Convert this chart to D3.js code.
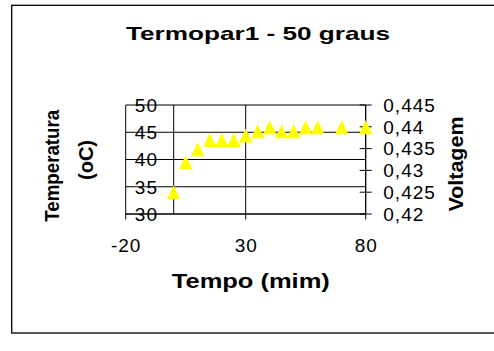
<!DOCTYPE html>
<html>
<head>
<meta charset="utf-8">
<script src="https://cdn.jsdelivr.net/npm/d3@7"></script>
<style>
  html, body { margin: 0; padding: 0; background: #fff; }
  svg { display: block; font-family: "Liberation Sans", Arial, sans-serif; }
</style>
</head>
<body>
<svg id="chart" width="494" height="351"></svg>
<script>
// Thermocouple 1 readings at the 50 degree setpoint
const tempoMin = [0, 5, 10, 15, 20, 25, 30, 35, 40, 45, 50, 55, 60, 70, 80];
const temperatura = [34, 39.5, 41.9, 43.6, 43.6, 43.6, 44.4, 45.2, 45.9, 45.2, 45.2, 45.9, 45.9, 45.9, 45.9];

const xTicks = [-20, 30, 80];
const yTicks = [30, 35, 40, 45, 50];
const y2Ticks = [0.42, 0.425, 0.43, 0.435, 0.44, 0.445];

const svg = d3.select("#chart");

// plot area
const L = 125.7, R = 365.7, T = 105, B = 214;
const x = d3.scaleLinear().domain([-20, 80]).range([L, R]);
const y = d3.scaleLinear().domain([30, 50]).range([B, T]);
const y2 = d3.scaleLinear().domain([0.42, 0.445]).range([B, T]);

// outer chart frame
svg.append("rect")
  .attr("x", 11.7).attr("y", 5.3)
  .attr("width", 490).attr("height", 327.7)
  .attr("fill", "#fff").attr("stroke", "#000").attr("stroke-width", 1.3);

// horizontal gridlines
svg.append("g").selectAll("line").data(yTicks).join("line")
  .attr("x1", L).attr("x2", R)
  .attr("y1", d => y(d)).attr("y2", d => y(d))
  .attr("stroke", "#000").attr("stroke-width", 1);

// vertical gridlines
svg.append("g").selectAll("line").data(xTicks).join("line")
  .attr("x1", d => x(d)).attr("x2", d => x(d))
  .attr("y1", T).attr("y2", B)
  .attr("stroke", "#000").attr("stroke-width", 1);

// value axis crossing at x = 0
svg.append("line")
  .attr("x1", x(0)).attr("x2", x(0)).attr("y1", T).attr("y2", B)
  .attr("stroke", "#000").attr("stroke-width", 1);

// x axis with outside ticks
svg.append("line")
  .attr("x1", L).attr("x2", R).attr("y1", B).attr("y2", B)
  .attr("stroke", "#000").attr("stroke-width", 1);
svg.append("g").selectAll("line").data(xTicks).join("line")
  .attr("x1", d => x(d)).attr("x2", d => x(d))
  .attr("y1", B).attr("y2", B + 5.5)
  .attr("stroke", "#000").attr("stroke-width", 1);

// secondary axis with crossing ticks
svg.append("line")
  .attr("x1", R).attr("x2", R).attr("y1", T).attr("y2", B)
  .attr("stroke", "#000").attr("stroke-width", 1);
svg.append("g").selectAll("line").data(y2Ticks).join("line")
  .attr("x1", R - 6).attr("x2", R + 6)
  .attr("y1", d => y2(d)).attr("y2", d => y2(d))
  .attr("stroke", "#000").attr("stroke-width", 1);

// tick labels
const tickFont = { size: 19, spacing: 1 };
svg.append("g").selectAll("text").data(yTicks).join("text")
  .attr("x", 158).attr("y", d => y(d)).attr("dy", "0.36em")
  .attr("text-anchor", "end")
  .attr("font-size", tickFont.size).attr("letter-spacing", tickFont.spacing)
  .text(d => d);

svg.append("g").selectAll("text").data(xTicks).join("text")
  .attr("x", d => x(d) + 0.5).attr("y", 252.3)
  .attr("text-anchor", "middle")
  .attr("font-size", tickFont.size).attr("letter-spacing", tickFont.spacing)
  .text(d => d);

const fmtComma = d => String(+d.toFixed(3)).replace(".", ",");
svg.append("g").selectAll("text").data(y2Ticks).join("text")
  .attr("x", 383.3).attr("y", d => y2(d)).attr("dy", "0.36em")
  .attr("text-anchor", "start")
  .attr("font-size", tickFont.size).attr("letter-spacing", tickFont.spacing)
  .text(fmtComma);

// data markers: yellow triangles
const tri = "M0,-7L6.7,7L-6.7,7Z";
svg.append("g").selectAll("path")
  .data(tempoMin.map((t, i) => [t, temperatura[i]]))
  .join("path")
  .attr("d", tri)
  .attr("transform", d => `translate(${x(d[0])},${y(d[1])})`)
  .attr("fill", "#ffff00");

// titles
function label(txt, cx, cy, len, size, rotate) {
  const t = svg.append("text")
    .attr("text-anchor", "middle")
    .attr("font-weight", "bold")
    .attr("font-size", size)
    .attr("textLength", len)
    .attr("lengthAdjust", "spacingAndGlyphs")
    .text(txt);
  if (rotate) {
    t.attr("transform", `translate(${cx},${cy}) rotate(-90)`);
  } else {
    t.attr("x", cx).attr("y", cy);
  }
  return t;
}

label("Termopar1 - 50 graus", 258, 40, 264, 19, false);
label("Tempo (mim)", 250.8, 288.3, 158, 20, false);
label("Temperatura", 59.3, 165.8, 111.7, 20, true);
label("(oC)", 92.7, 160, 40, 20, true);
label("Voltagem", 462.7, 164, 95, 20, true);
</script>
</body>
</html>
